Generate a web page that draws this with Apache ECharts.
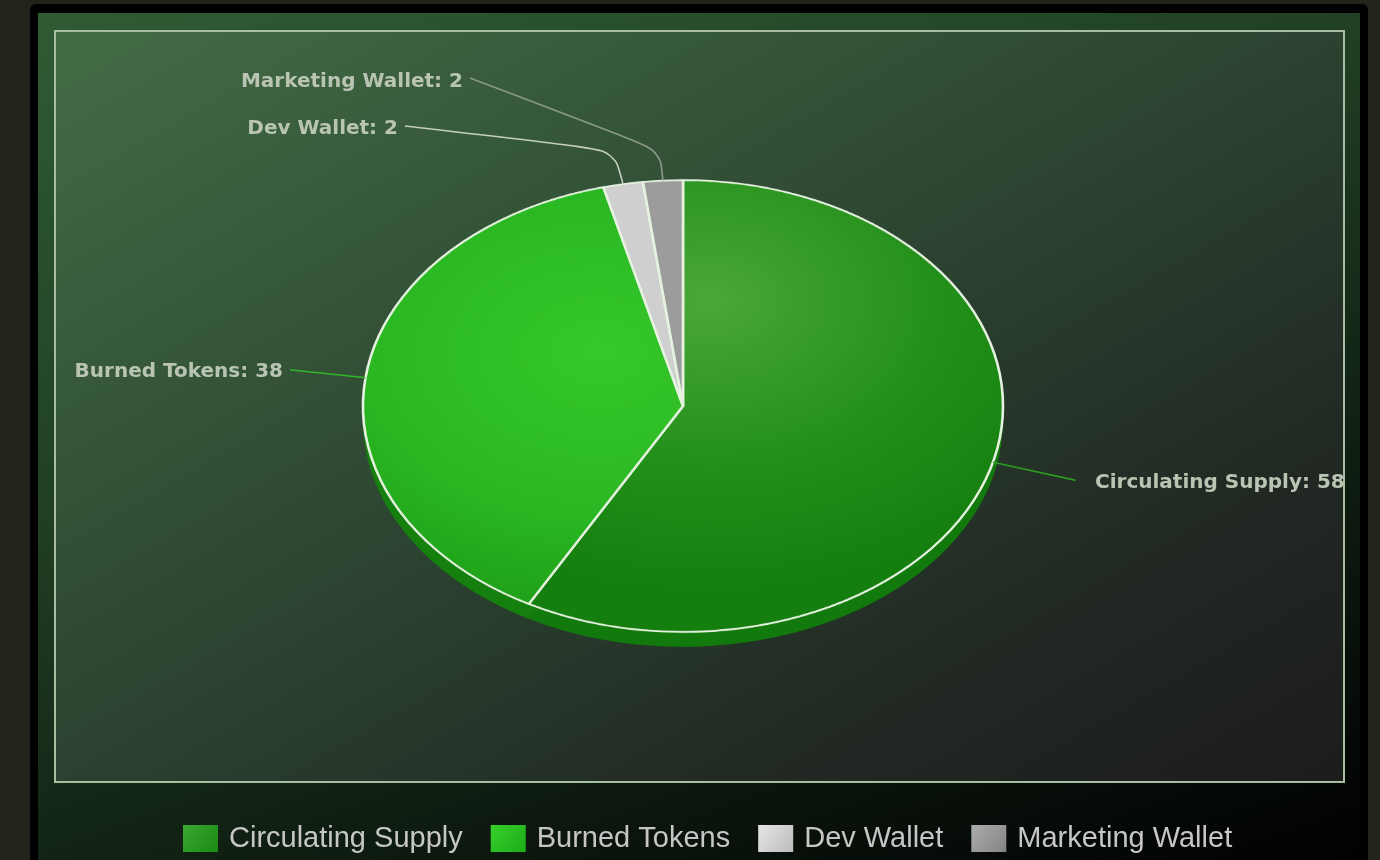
<!DOCTYPE html>
<html>
<head>
<meta charset="utf-8">
<script src="https://cdn.jsdelivr.net/npm/echarts@6/dist/echarts.min.js"></script>
<style>
html,body{margin:0;padding:0;width:1380px;height:860px;overflow:hidden;background:#20241a;}
#frame{position:absolute;left:30px;top:4px;width:1338px;height:870px;background:#000;border-radius:6px;}
#panel{position:absolute;left:38px;top:13px;width:1322px;height:860px;
  background:linear-gradient(160deg,#2f5c33 0%,#1f3d23 40%,#0c170e 75%,#000 100%);}
#inner{position:absolute;left:54px;top:30px;width:1287px;height:749px;border:2px solid #a8bea2;
  background:linear-gradient(150deg,#436c44 0%,#36583a 25%,#2b4230 50%,#222a24 75%,#1c1c1c 100%);}
#pieA{position:absolute;left:0;top:0;width:1380px;height:860px;transform:scaleY(0.706);transform-origin:683px 406px;}
#pieB{position:absolute;left:0;top:0;width:1380px;height:860px;}
</style>
</head>
<body>
<div id="frame"></div>
<div id="panel"></div>
<div id="inner"></div>
<div id="pieA"></div>
<div id="pieB"></div>
<script>
// ---- data ----
const categories = ['Circulating Supply', 'Burned Tokens', 'Dev Wallet', 'Marketing Wallet'];
const values = [58, 38, 2, 2];
const legendLabels = ['Circulating Supply', 'Burned Tokens', 'Dev Wallet', 'Marketing Wallet'];

// ---- styles ----
const CX = 683, CY = 406, RX = 320, SY = 0.706, RY = RX * SY, DEPTH = 21;
const topFills = [
  {type:'radial', x:710, y:256, r:420, global:true, colorStops:[{offset:0,color:'#4aa838'},{offset:0.55,color:'#23901a'},{offset:1,color:'#147e0e'}]},
  {type:'radial', x:600, y:330, r:380, global:true, colorStops:[{offset:0,color:'#36c82c'},{offset:0.6,color:'#2ab822'},{offset:1,color:'#1e9e18'}]},
  '#cfcfcf',
  '#9c9c9c'
];
const sideFills = ['#127a0c', '#15800e', '#9a9a9a', '#7a7a7a'];
const legendColors = [
  {type:'linear', x:0, y:0, x2:1, y2:1, colorStops:[{offset:0,color:'#3aa830'},{offset:1,color:'#1a8a14'}]},
  {type:'linear', x:0, y:0, x2:1, y2:1, colorStops:[{offset:0,color:'#36d02c'},{offset:1,color:'#1eac18'}]},
  {type:'linear', x:0, y:0, x2:1, y2:1, colorStops:[{offset:0,color:'#e6e6e6'},{offset:1,color:'#bcbcbc'}]},
  {type:'linear', x:0, y:0, x2:1, y2:1, colorStops:[{offset:0,color:'#acacac'},{offset:1,color:'#848484'}]}
];
const lineColors = ['#2a9a22', '#30b828', '#c4cec0', '#8a9a88'];

const chartA = echarts.init(document.getElementById('pieA'));
chartA.setOption({
  animation:false,
  series:[
    {type:'pie', center:[CX, CY + DEPTH], radius:RX, startAngle:90, clockwise:true, silent:true, z:1,
     label:{show:false}, labelLine:{show:false},
     itemStyle:{borderWidth:0},
     data: categories.map((c,i)=>({name:c, value:values[i], itemStyle:{color:sideFills[i]}}))},
    {type:'pie', center:[CX, CY], radius:RX, startAngle:90, clockwise:true, silent:true, z:2,
     label:{show:false}, labelLine:{show:false},
     itemStyle:{borderColor:'#e6f2e0', borderWidth:2.6},
     data: categories.map((c,i)=>({name:c, value:values[i], itemStyle:{color:topFills[i]}}))}
  ]
});

// mid angles (clockwise from top) computed from the data
const total = values.reduce((a,b)=>a+b,0);
const midAngles = [];
{ let acc = 0; values.forEach(v=>{ midAngles.push((acc + v/2)/total*2*Math.PI); acc += v; }); }
function edgePoint(i){
  const a = midAngles[i];
  return [CX + RX*Math.sin(a), CY - RY*Math.cos(a)];
}
// label placement (layout only)
const labelPlace = [
  {x:1095, y:483, align:'left',  elbow:[1075,480]},
  {x:283,  y:372, align:'right', elbow:[292,370]},
  {x:398,  y:129, align:'right', elbow:[614,150], end:[405,126]},
  {x:463,  y:82,  align:'right', elbow:[660,150], end:[470,78]}
];

const chartB = echarts.init(document.getElementById('pieB'));
chartB.setOption({
  animation:false,
  legend:{
    bottom:2, left:178, itemWidth:35, itemHeight:27, itemGap:28, icon:'rect',
    selectedMode:false,
    textStyle:{color:'#c6c6c6', fontSize:29, fontFamily:'Liberation Sans, Arial, sans-serif', padding:[0,0,0,6]},
    data: legendLabels.map((n,i)=>({name:n, itemStyle:{color:legendColors[i], opacity:1, borderWidth:0}}))
  },
  series:[{
    type:'pie', center:[CX, CY], radius:RY, startAngle:90, clockwise:true, silent:true,
    itemStyle:{color:'rgba(0,0,0,0)'},
    emphasis:{disabled:true},
    label:{show:true, position:'outside', color:'#b9c4b2', fontSize:20, fontWeight:'bold',
      fontFamily:'DejaVu Sans, sans-serif',
      formatter: p => p.name + ': ' + p.value},
    labelLine:{show:true, smooth:0.35, lineStyle:{width:1.6}},
    labelLayout: function(params){
      const i = params.dataIndex;
      const pl = labelPlace[i];
      const e = edgePoint(i);
      const end = pl.end || [pl.align==='left' ? pl.x-20 : pl.x+7, pl.y-2];
      return {x:pl.x, y:pl.y, align:pl.align, verticalAlign:'middle',
        labelLinePoints:[e, pl.elbow, end]};
    },
    data: categories.map((c,i)=>({name:c, value:values[i],
      itemStyle:{color:'rgba(0,0,0,0)'},
      label:{color:'#b9c4b2'},
      labelLine:{lineStyle:{color:lineColors[i]}}}))
  }]
});
</script>
</body>
</html>
